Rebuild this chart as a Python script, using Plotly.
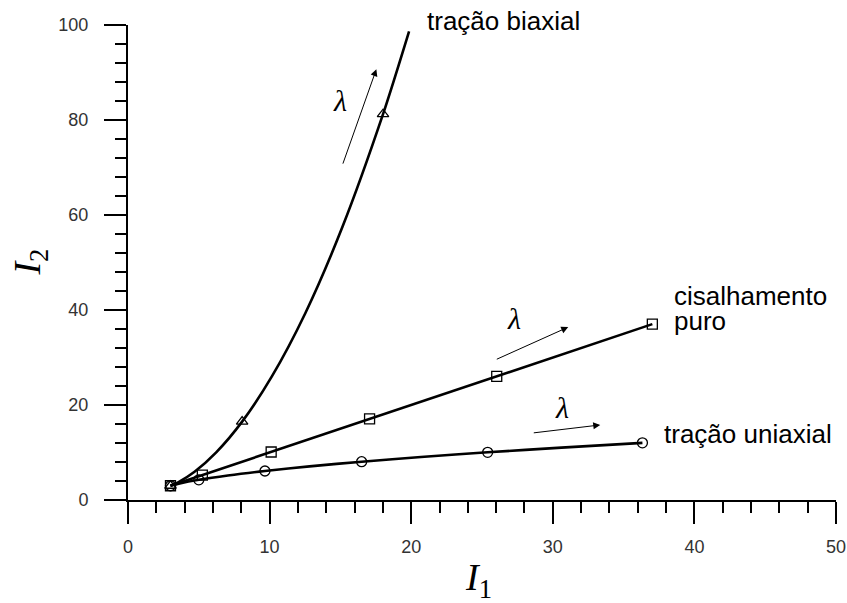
import plotly.graph_objects as go

# ---- data ----
# uniaxial tension curve (I1, I2)
uni_line_i1 = [3.0, 3.16, 3.58, 5.0, 7.05, 9.67, 12.82, 16.5, 20.69, 25.4, 30.61, 36.33]
uni_line_i2 = [3.0, 3.14, 3.44, 4.25, 5.16, 6.11, 7.08, 8.06, 9.05, 10.04, 11.03, 12.03]
uni_mark_i1 = [3.0, 5.0, 9.67, 16.5, 25.4, 36.33]
uni_mark_i2 = [3.0, 4.25, 6.11, 8.06, 10.04, 12.03]

# pure shear curve
shear_mark_i1 = [3.0, 5.25, 10.11, 17.06, 26.04, 37.03]
shear_mark_i2 = [3.0, 5.25, 10.11, 17.06, 26.04, 37.03]

# biaxial tension curve
bi_line_i1 = [3.0, 3.54, 4.70, 6.23, 8.06, 10.16, 12.53, 15.14, 18.01, 19.85]
bi_line_i2 = [3.0, 3.72, 5.95, 10.03, 16.5, 26.02, 39.38, 57.46, 81.22, 98.66]
bi_mark_i1 = [3.0, 8.06, 18.01]
bi_mark_i2 = [3.0, 16.5, 81.22]

x_ticks = [0, 10, 20, 30, 40, 50]
y_ticks = [0, 20, 40, 60, 80, 100]

W, H = 847, 603
L, R, T, B = 127.5, 11, 25, 103
pw, ph = W - L - R, H - T - B


def px2paper(px, py):
    return (px - L) / pw, (H - B - py) / ph


fig = go.Figure()

line_style = dict(color="black", width=2.6, shape="spline", smoothing=0.8)
mk = lambda sym: dict(symbol=sym, size=10, color="black", line=dict(color="black", width=1.3))

fig.add_trace(go.Scatter(x=bi_line_i1, y=bi_line_i2, mode="lines", line=line_style, hoverinfo="skip"))
fig.add_trace(go.Scatter(x=shear_mark_i1, y=shear_mark_i2, mode="lines",
                         line=dict(color="black", width=2.6), hoverinfo="skip"))
fig.add_trace(go.Scatter(x=uni_line_i1, y=uni_line_i2, mode="lines", line=line_style, hoverinfo="skip"))

fig.add_trace(go.Scatter(x=bi_mark_i1, y=bi_mark_i2, mode="markers", marker=mk("triangle-up-open")))
fig.add_trace(go.Scatter(x=shear_mark_i1, y=shear_mark_i2, mode="markers", marker=mk("square-open")))
fig.add_trace(go.Scatter(x=uni_mark_i1, y=uni_mark_i2, mode="markers", marker=mk("circle-open")))

axis_common = dict(
    showgrid=False, zeroline=False, showline=True, linecolor="black", linewidth=2,
    ticks="outside", ticklen=22, tickwidth=2, tickcolor="black",
    tickfont=dict(family="Liberation Sans, Arial", size=18, color="#333"),
    automargin=False,
)
fig.update_xaxes(range=[0, 50], tickvals=x_ticks, ticklabelstandoff=7,
                 minor=dict(dtick=2, ticks="outside", ticklen=11, tickwidth=2, tickcolor="black"),
                 **axis_common)
fig.update_yaxes(range=[0, 100], tickvals=y_ticks, ticklabelstandoff=12,
                 minor=dict(dtick=4, ticks="outside", ticklen=11, tickwidth=2, tickcolor="black"),
                 **axis_common)

annots = []
lab_font = dict(family="Liberation Sans, Arial", size=26, color="black")
for (px, py, txt) in [(425, 21, "tração biaxial"), (672, 296, "cisalhamento"),
                      (672, 321, "puro"), (662, 434, "tração uniaxial")]:
    xp, yp = px2paper(px, py)
    annots.append(dict(x=xp, y=yp, xref="paper", yref="paper", text=txt, xanchor="left",
                       yanchor="middle", showarrow=False, font=lab_font))

lam_font = dict(family="Liberation Serif, Times New Roman", size=30, color="black")
lam_pos = [(340, 100), (514, 318), (562, 407)]
for (px, py) in lam_pos:
    xp, yp = px2paper(px, py)
    annots.append(dict(x=xp, y=yp, xref="paper", yref="paper", text="<i>λ</i>",
                       xanchor="center", yanchor="middle", showarrow=False, font=lam_font))

for (tx, ty, hx, hy) in [(15.14, 70.5, 17.54, 90.7), (25.94, 29.5, 31.09, 36.4), (28.55, 14.1, 33.35, 15.8)]:
    annots.append(dict(x=hx, y=hy, ax=tx, ay=ty, xref="x", yref="y", axref="x", ayref="y",
                       text="", showarrow=True, arrowhead=2, arrowsize=1.4, arrowwidth=1, arrowcolor="black"))

title_font = dict(family="Liberation Serif, Times New Roman", size=38, color="black")
x1, y1 = px2paper(478, 580)
x2, y2 = px2paper(29, 262)
annots.append(dict(x=x1, y=y1, xref="paper", yref="paper", text="<i>I</i><sub>1</sub>",
                   xanchor="center", yanchor="middle", showarrow=False, font=title_font))
annots.append(dict(x=x2, y=y2, xref="paper", yref="paper", text="<i>I</i><sub>2</sub>",
                   xanchor="center", yanchor="middle", showarrow=False, font=title_font, textangle=-90))

fig.update_layout(
    annotations=annots,
    width=W, height=H, autosize=False,
    margin=dict(l=L, r=R, t=T, b=B, pad=0),
    plot_bgcolor="white", paper_bgcolor="white",
    showlegend=False,
)
fig.write_html("out.html", config={"displayModeBar": False},
               post_script="document.body.style.margin='0';")
